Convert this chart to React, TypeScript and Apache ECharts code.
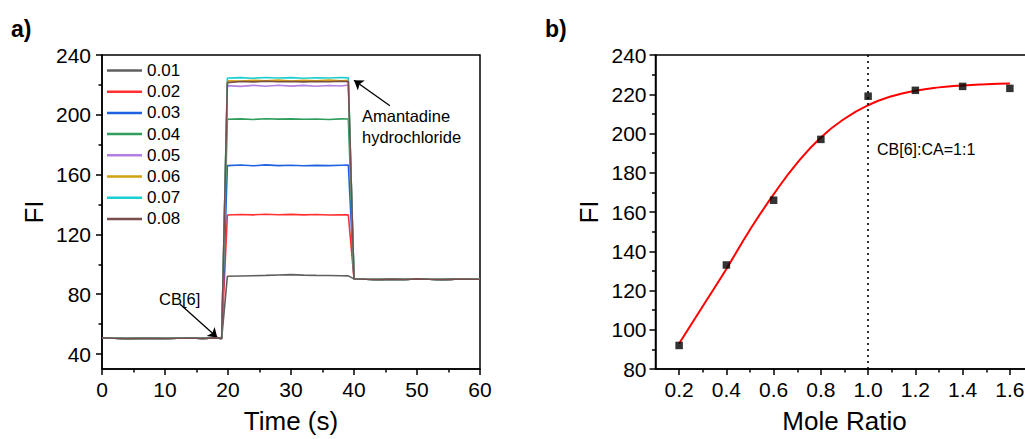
import React, { useEffect, useRef } from "react";
import * as echarts from "echarts";

const FONT = "'Liberation Sans', Arial, Helvetica, sans-serif";

// ---------- Panel a: time traces ----------
const CONCENTRATIONS = ["0.01", "0.02", "0.03", "0.04", "0.05", "0.06", "0.07", "0.08"];
const COLORS = ["#5f5f5f", "#ff3030", "#1f63e0", "#2f9d5c", "#b47fe3", "#d3a10f", "#1ccfd0", "#7a4d4d"];

const BASE_T = [0, 2, 4, 6, 8, 10, 12, 14, 16, 18, 19];
const BASE_FI = [50.8, 50.6, 50.3, 50.5, 50.6, 50.4, 50.6, 50.7, 50.5, 50.8, 50.5];

const PLATEAU_T = [19.9, 22, 24, 26, 28, 30, 32, 34, 36, 38, 39.1];
const PLATEAU_001 = [92.0, 92.2, 92.4, 92.6, 92.9, 93.1, 92.8, 92.6, 92.5, 92.4, 92.3];
const PLATEAU_002 = [133.0, 133.3, 133.1, 133.5, 133.2, 133.4, 133.1, 133.3, 133.0, 133.2, 133.1];
const PLATEAU_003 = [166.0, 166.4, 165.9, 166.5, 166.0, 166.3, 165.9, 166.2, 166.0, 166.3, 166.4];
const PLATEAU_004 = [197.0, 197.3, 196.9, 197.4, 197.1, 197.3, 197.0, 197.2, 196.9, 197.3, 197.2];
const PLATEAU_005 = [219.5, 219.0, 219.7, 219.1, 219.8, 219.2, 219.7, 219.1, 219.6, 219.3, 219.9];
const PLATEAU_006 = [222.8, 222.5, 223.1, 222.7, 223.2, 222.6, 223.0, 222.8, 223.2, 222.7, 223.0];
const PLATEAU_007 = [224.6, 224.9, 224.5, 225.0, 224.6, 224.9, 224.5, 224.8, 224.6, 225.0, 224.7];
const PLATEAU_008 = [221.5, 222.3, 222.0, 222.4, 222.1, 222.3, 222.0, 222.3, 222.1, 222.4, 222.2];
const PLATEAUS = [PLATEAU_001, PLATEAU_002, PLATEAU_003, PLATEAU_004, PLATEAU_005, PLATEAU_006, PLATEAU_007, PLATEAU_008];

const AFTER_T = [40, 42, 44, 46, 48, 50, 52, 54, 56, 58, 60];
const AFTER_FI = [90.3, 90.0, 89.8, 90.1, 89.9, 90.3, 90.0, 89.8, 90.1, 90.2, 90.0];

const A_Y_MAJOR = [40, 80, 120, 160, 200, 240];
const A_Y_MINOR = [60, 100, 140, 180, 220];

// ---------- Panel b: mole ratio ----------
const MOLE_RATIO = [0.2, 0.4, 0.6, 0.8, 1.0, 1.2, 1.4, 1.6];
const FI_MEASURED = [92, 133, 166, 197, 219, 222, 224, 223];
const FIT_RATIO = [0.2, 0.3, 0.4, 0.5, 0.6, 0.7, 0.8, 0.9, 1.0, 1.1, 1.2, 1.3, 1.4, 1.5, 1.6];
const FIT_FI = [93, 112, 131, 151, 169, 185, 198, 207.5, 214.4, 219, 221.8, 223.5, 224.5, 225.1, 225.5];

const B_X_MAJOR = [0.2, 0.4, 0.6, 0.8, 1.0, 1.2, 1.4, 1.6];
const B_X_MINOR = [0.3, 0.5, 0.7, 0.9, 1.1, 1.3, 1.5, 1.7];

// annotation arrows (data coordinates of panel a)
const ARROW_AMANTADINE = [[45.7, 206], [40.0, 223.1]];
const ARROW_CB6 = [[12.4, 73.3], [18.3, 51.0]];

const AXIS_LINE = { show: true, onZero: false, lineStyle: { color: "#000", width: 1.5 } };
const LABEL = { color: "#000", fontSize: 21, fontFamily: FONT };
const NAME = { color: "#000", fontSize: 26, fontFamily: FONT };

export default function App() {
  const ref = useRef<HTMLDivElement>(null);

  useEffect(() => {
    if (!ref.current) return;
    const chart = echarts.init(ref.current, undefined, { renderer: "svg" });

    const seriesA = CONCENTRATIONS.map((name, i) => ({
      type: "line",
      name,
      xAxisIndex: 0,
      yAxisIndex: 0,
      symbol: "none",
      z: 2 + i,
      lineStyle: { color: COLORS[i], width: 1.6 },
      itemStyle: { color: COLORS[i] },
      data: [
        ...BASE_T.map((t, k) => [t, BASE_FI[k]]),
        ...PLATEAU_T.map((t, k) => [t, PLATEAUS[i][k]]),
        ...AFTER_T.map((t, k) => [t, AFTER_FI[k]]),
      ],
      ...(i === CONCENTRATIONS.length - 1
        ? {
            markLine: {
              silent: true,
              symbol: ["none", "arrow"],
              symbolSize: 9,
              label: { show: false },
              lineStyle: { color: "#000", width: 1.3, type: "solid" },
              emphasis: { disabled: true },
              data: [
                [{ coord: ARROW_AMANTADINE[0] }, { coord: ARROW_AMANTADINE[1] }],
                [{ coord: ARROW_CB6[0] }, { coord: ARROW_CB6[1] }],
              ],
            },
          }
        : {}),
    }));

    const option: any = {
      animation: false,
      backgroundColor: "#fff",
      textStyle: { fontFamily: FONT },
      grid: [
        { left: 102, top: 55, width: 378, height: 319, show: true, borderColor: "#000", borderWidth: 1.5, backgroundColor: "transparent" },
        { left: 655.5, top: 55, width: 378, height: 319, show: true, borderColor: "#000", borderWidth: 1.5, backgroundColor: "transparent" },
      ],
      legend: {
        data: CONCENTRATIONS,
        orient: "vertical",
        left: 107,
        top: 62,
        padding: 0,
        icon: "rect",
        itemWidth: 35,
        itemHeight: 2.5,
        itemGap: 4.2,
        textStyle: { color: "#000", fontSize: 17, fontFamily: FONT },
      },
      xAxis: [
        {
          type: "value",
          gridIndex: 0,
          min: 0,
          max: 60,
          interval: 10,
          name: "Time (s)",
          nameLocation: "middle",
          nameGap: 39,
          nameTextStyle: NAME,
          axisLine: AXIS_LINE,
          axisTick: { show: true, length: 6, lineStyle: { color: "#000", width: 1.5 } },
          minorTick: { show: true, splitNumber: 2, length: 3.5, lineStyle: { color: "#000", width: 1.5 } },
          axisLabel: { ...LABEL, margin: 10 },
          splitLine: { show: false },
        },
        {
          type: "value",
          gridIndex: 1,
          min: 0.1,
          max: 1.7,
          name: "Mole Ratio",
          nameLocation: "middle",
          nameGap: 39,
          nameTextStyle: NAME,
          axisLine: AXIS_LINE,
          axisTick: { show: true, length: 6, customValues: B_X_MAJOR, lineStyle: { color: "#000", width: 1.5 } },
          axisLabel: { ...LABEL, margin: 10, customValues: B_X_MAJOR, formatter: (v: number) => v.toFixed(1) },
          splitLine: { show: false },
        },
        {
          type: "value",
          gridIndex: 1,
          position: "bottom",
          min: 0.1,
          max: 1.7,
          axisLine: { show: false, onZero: false },
          axisTick: { show: true, length: 3.5, customValues: B_X_MINOR, lineStyle: { color: "#000", width: 1.5 } },
          axisLabel: { show: false, customValues: B_X_MINOR },
          splitLine: { show: false },
        },
      ],
      yAxis: [
        {
          type: "value",
          gridIndex: 0,
          min: 30,
          max: 240,
          name: "FI",
          nameLocation: "middle",
          nameGap: 55,
          nameTextStyle: NAME,
          axisLine: AXIS_LINE,
          axisTick: { show: true, length: 6, customValues: A_Y_MAJOR, lineStyle: { color: "#000", width: 1.5 } },
          axisLabel: { ...LABEL, margin: 11, customValues: A_Y_MAJOR },
          splitLine: { show: false },
        },
        {
          type: "value",
          gridIndex: 0,
          position: "left",
          min: 30,
          max: 240,
          axisLine: { show: false, onZero: false },
          axisTick: { show: true, length: 3.5, customValues: A_Y_MINOR, lineStyle: { color: "#000", width: 1.5 } },
          axisLabel: { show: false, customValues: A_Y_MINOR },
          splitLine: { show: false },
        },
        {
          type: "value",
          gridIndex: 1,
          min: 80,
          max: 240,
          interval: 20,
          name: "FI",
          nameLocation: "middle",
          nameGap: 54,
          nameTextStyle: NAME,
          axisLine: AXIS_LINE,
          axisTick: { show: true, length: 6, lineStyle: { color: "#000", width: 1.5 } },
          minorTick: { show: true, splitNumber: 2, length: 3.5, lineStyle: { color: "#000", width: 1.5 } },
          axisLabel: { ...LABEL, margin: 9 },
          splitLine: { show: false },
        },
      ],
      series: [
        ...seriesA,
        {
          type: "line",
          name: "fit",
          xAxisIndex: 1,
          yAxisIndex: 2,
          symbol: "none",
          smooth: true,
          lineStyle: { color: "#ff0000", width: 2 },
          data: FIT_RATIO.map((x, k) => [x, FIT_FI[k]]),
          z: 3,
        },
        {
          type: "scatter",
          name: "measured",
          xAxisIndex: 1,
          yAxisIndex: 2,
          symbol: "rect",
          symbolSize: 7.5,
          itemStyle: { color: "#000" },
          data: MOLE_RATIO.map((x, k) => [x, FI_MEASURED[k]]),
          z: 4,
          markLine: {
            silent: true,
            symbol: ["none", "none"],
            label: { show: false },
            lineStyle: { color: "#000", width: 1.6, type: [2, 4] },
            emphasis: { disabled: true },
            data: [{ xAxis: 1.0 }],
          },
        },
      ],
      graphic: [
        { type: "text", left: 11, top: 17, style: { text: "a)", fontSize: 23, fontWeight: "bold", fontFamily: FONT, fill: "#000" } },
        { type: "text", left: 545, top: 17, style: { text: "b)", fontSize: 23, fontWeight: "bold", fontFamily: FONT, fill: "#000" } },
        {
          type: "text",
          x: 362,
          y: 105,
          style: { text: "Amantadine\nhydrochloride", fontSize: 16.5, lineHeight: 21, fontFamily: FONT, fill: "#000", verticalAlign: "top" },
        },
        { type: "text", x: 159, y: 299, style: { text: "CB[6]", fontSize: 16.5, fontFamily: FONT, fill: "#000", verticalAlign: "middle" } },
        { type: "text", x: 877, y: 149, style: { text: "CB[6]:CA=1:1", fontSize: 16, fontFamily: FONT, fill: "#000", verticalAlign: "middle" } },
      ],
    };

    chart.setOption(option);
    return () => chart.dispose();
  }, []);

  return (
    <div style={{ position: "fixed", left: 0, top: 0, width: 1025, height: 439, overflow: "hidden", background: "#fff" }}>
      <div ref={ref} style={{ width: 1045, height: 439 }} />
    </div>
  );
}
